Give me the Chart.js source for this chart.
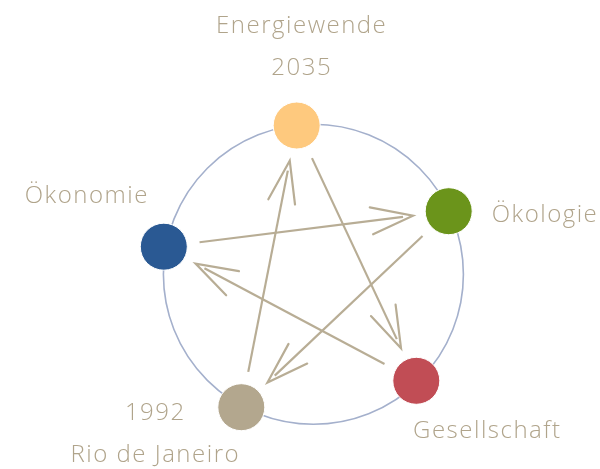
<!DOCTYPE html>
<html>
<head>
<meta charset="utf-8">
<script src="https://cdn.jsdelivr.net/npm/chart.js@4"></script>
<style>
  html, body { margin: 0; padding: 0; background: #fff; }
  #wrap { width: 600px; height: 469px; }
</style>
</head>
<body>
<div id="wrap"><canvas id="diagram"></canvas></div>
<script>
// nodes of the diagram (plot units = pixels of the 600x469 frame)
const nodeLabels = ['Energiewende\n2035', 'Ökologie', 'Gesellschaft', '1992\nRio de Janeiro', 'Ökonomie'];
const nodeX = [296.7, 448.7, 416.3, 241.3, 163.8];
const nodeY = [125.5, 211.2, 380.8, 407.2, 246.7];
const nodeColors = ['#fec97e', '#6b941b', '#c14d55', '#b3a78e', '#2a5993'];
// arrows: [from, to]
const edges = [[4, 1], [0, 2], [1, 3], [2, 4], [3, 0]];
const ringCenter = { x: 313.4, y: 274.3 };

const lineColor = '#b8ad95';
const gap = 36;

function edgePoints(e) {
  const ax = nodeX[e[0]], ay = nodeY[e[0]];
  const bx = nodeX[e[1]], by = nodeY[e[1]];
  const len = Math.hypot(bx - ax, by - ay);
  const ux = (bx - ax) / len, uy = (by - ay) / len;
  return [
    { x: ax + ux * gap, y: ay + uy * gap },
    { x: bx - ux * (gap + 10), y: by - uy * (gap + 10) }
  ];
}

const edgeSets = edges.map(e => ({
  type: 'line',
  data: edgePoints(e),
  borderColor: lineColor,
  borderWidth: 2.2,
  pointRadius: 0,
  fill: false,
  order: 2
}));

// label placement: [dx, dy, align] relative to node centre
const labelPos = [
  [5, -99, 'center'],
  [43, 4, 'left'],
  [71, 50, 'center'],
  [-86, 6, 'center'],
  [-77, -51, 'center']
];

const arrowsAndLabels = {
  id: 'arrowsAndLabels',
  afterDatasetsDraw(chart) {
    const { ctx, scales } = chart;
    const px = v => scales.x.getPixelForValue(v);
    const py = v => scales.y.getPixelForValue(v);
    ctx.save();
    ctx.strokeStyle = lineColor;
    ctx.lineWidth = 2.2;
    ctx.lineCap = 'round';
    edges.forEach(e => {
      const ax = px(nodeX[e[0]]), ay = py(nodeY[e[0]]);
      const bx = px(nodeX[e[1]]), by = py(nodeY[e[1]]);
      const ang = Math.atan2(ay - by, ax - bx);
      const tx = bx + Math.cos(ang) * gap, ty = by + Math.sin(ang) * gap;
      const spread = 18 * Math.PI / 180, barb = 44;
      ctx.beginPath();
      ctx.moveTo(tx + Math.cos(ang - spread) * barb, ty + Math.sin(ang - spread) * barb);
      ctx.lineTo(tx, ty);
      ctx.lineTo(tx + Math.cos(ang + spread) * barb, ty + Math.sin(ang + spread) * barb);
      ctx.stroke();
    });

    ctx.fillStyle = '#b0a48b';
    ctx.font = '300 24px "Open Sans", "DejaVu Sans", sans-serif';
    ctx.letterSpacing = '1.5px';
    ctx.textBaseline = 'middle';
    nodeLabels.forEach((lbl, i) => {
      const [dx, dy, align] = labelPos[i];
      ctx.textAlign = align;
      lbl.split('\n').forEach((line, j) => {
        ctx.fillText(line, px(nodeX[i]) + dx, py(nodeY[i]) + dy + j * 42);
      });
    });
    ctx.restore();
  }
};

new Chart(document.getElementById('diagram'), {
  type: 'scatter',
  data: {
    datasets: [
      {
        data: [ringCenter],
        pointRadius: 150,
        pointHoverRadius: 150,
        backgroundColor: 'rgba(0,0,0,0)',
        borderColor: '#a4b0cc',
        borderWidth: 1.6,
        order: 3
      },
      ...edgeSets,
      {
        data: nodeX.map((x, i) => ({ x, y: nodeY[i] })),
        pointRadius: 23.5,
        pointHoverRadius: 23.5,
        backgroundColor: nodeColors,
        borderColor: '#ffffff',
        borderWidth: 1,
        order: 1
      }
    ]
  },
  options: {
    responsive: true,
    maintainAspectRatio: false,
    animation: false,
    events: [],
    clip: false,
    layout: { padding: 0, autoPadding: false },
    scales: {
      x: { type: 'linear', min: 0, max: 600, display: false },
      y: { type: 'linear', min: 0, max: 469, reverse: true, display: false }
    },
    plugins: { legend: { display: false }, tooltip: { enabled: false } }
  },
  plugins: [arrowsAndLabels]
});
</script>
</body>
</html>
